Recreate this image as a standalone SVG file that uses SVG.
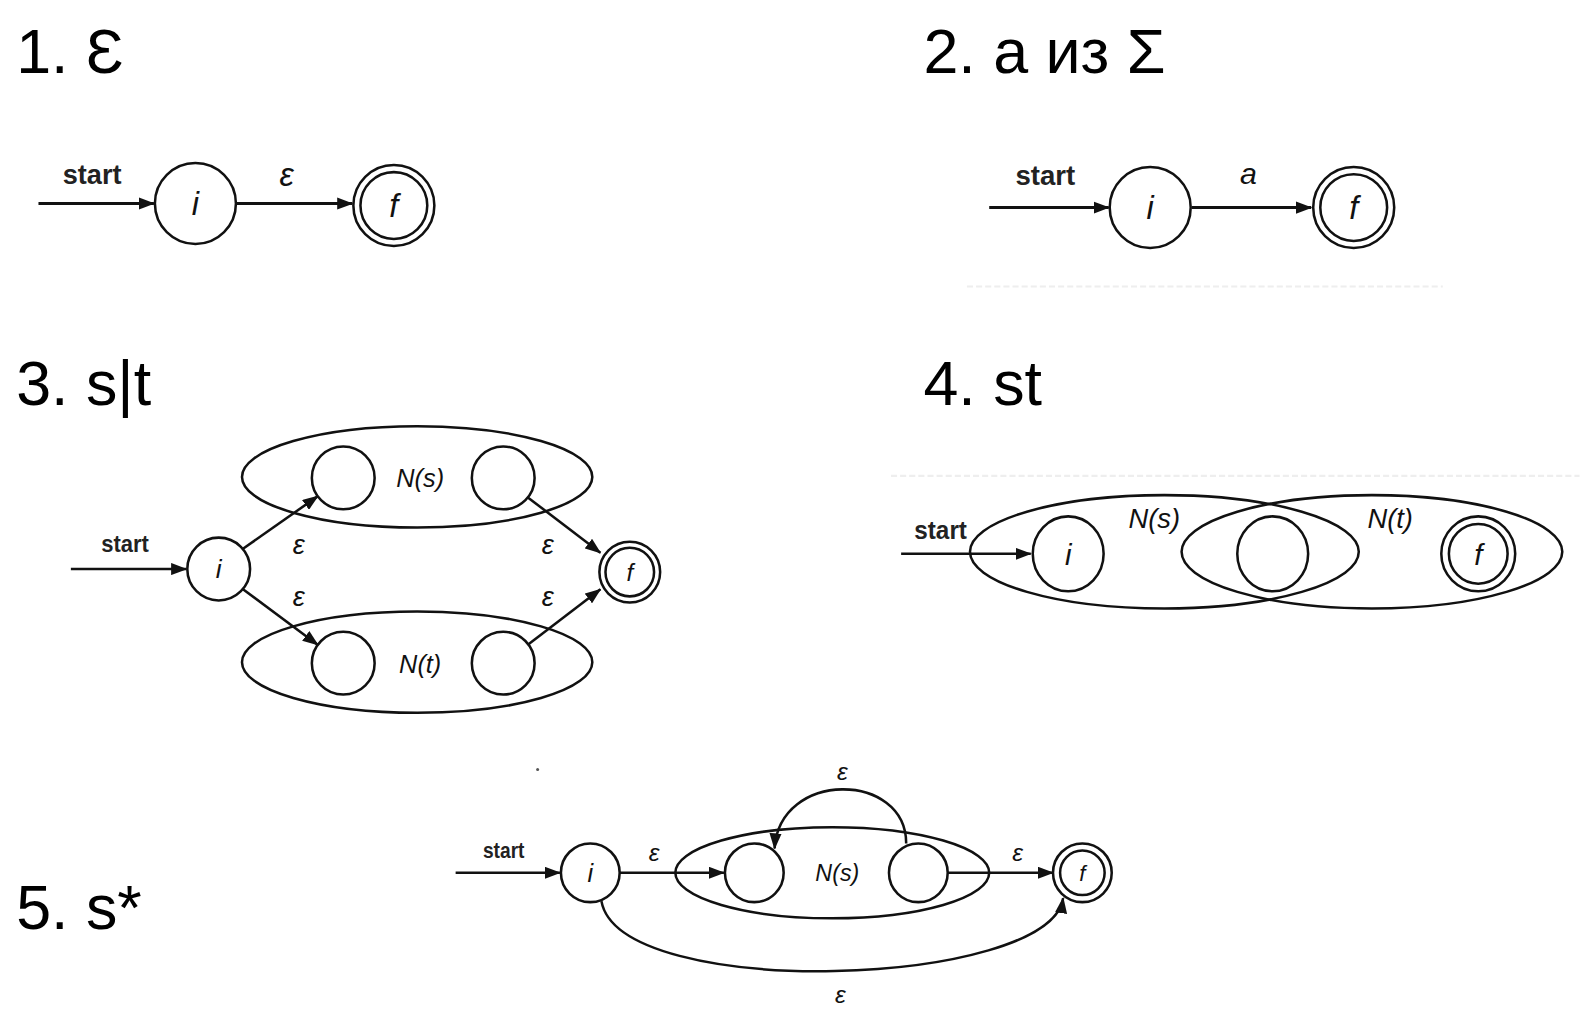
<svg xmlns="http://www.w3.org/2000/svg" width="1586" height="1021" viewBox="0 0 1586 1021">
<style>
.h{font-family:"Liberation Sans",Arial,sans-serif;font-size:62px;fill:#000}
.st{font-family:"Liberation Sans",Arial,sans-serif;font-weight:bold;fill:#222}
.it{font-family:"Liberation Sans",Arial,sans-serif;font-style:italic;fill:#111;text-anchor:middle}
.ln{fill:none;stroke:#111;stroke-width:2.5}
.ln3{fill:none;stroke:#111;stroke-width:3}
.nd{fill:#fff;stroke:#111;stroke-width:2.5}
.ell{fill:none;stroke:#111;stroke-width:2.5}
.art{stroke:#eee;stroke-width:2;stroke-dasharray:6 3}
</style>
<defs>
<marker id="ar" markerUnits="userSpaceOnUse" markerWidth="16" markerHeight="12" refX="15" refY="6" orient="auto">
<path d="M0,0 L16,6 L0,12 z" fill="#111"/>
</marker>
</defs>
<rect width="1586" height="1021" fill="#fff"/>
<g transform="scale(1.0125)">

<!-- headings -->
<text class="h" x="16" y="72">1. Ɛ</text>
<text class="h" x="912" y="72">2. a из Σ</text>
<text class="h" x="16" y="400">3. s|t</text>
<text class="h" x="912" y="400">4. st</text>
<text class="h" x="16" y="918">5. s*</text>

<!-- artifacts -->
<line class="art" x1="955" y1="283" x2="1425" y2="283"/>
<line class="art" x1="880" y1="470" x2="1560" y2="470"/>
<circle cx="531" cy="760" r="1.5" fill="#555"/>

<!-- connectors -->
<g id="connectors">
<line class="ln3" x1="38" y1="201" x2="152" y2="201" marker-end="url(#ar)"/>
<line class="ln3" x1="233" y1="201" x2="348" y2="201" marker-end="url(#ar)"/>
<line class="ln3" x1="977" y1="205" x2="1095" y2="205" marker-end="url(#ar)"/>
<line class="ln3" x1="1177" y1="205" x2="1295" y2="205" marker-end="url(#ar)"/>

<line class="ln" x1="70" y1="562" x2="184" y2="562" marker-end="url(#ar)"/>
<line class="ln" x1="240" y1="542" x2="314" y2="490" marker-end="url(#ar)"/>
<line class="ln" x1="240" y1="582" x2="314" y2="637" marker-end="url(#ar)"/>
<line class="ln" x1="521" y1="491" x2="593" y2="546" marker-end="url(#ar)"/>
<line class="ln" x1="521" y1="637" x2="593" y2="582" marker-end="url(#ar)"/>

<line class="ln" x1="890" y1="547" x2="1018" y2="547" marker-end="url(#ar)"/>

<line class="ln" x1="450" y1="862" x2="553" y2="862" marker-end="url(#ar)"/>
<line class="ln" x1="612" y1="862" x2="715" y2="862" marker-end="url(#ar)"/>
<line class="ln" x1="936" y1="862" x2="1040" y2="862" marker-end="url(#ar)"/>
<path class="ln" d="M895 833 C895 762,770 760,765 838" marker-end="url(#ar)"/>
<path class="ln" d="M594 890 C612 990,1038 975,1050 887" marker-end="url(#ar)"/>
</g>

<!-- panel 1 -->
<g id="p1-labels">
<text class="st" x="62" y="182" font-size="28" textLength="58" lengthAdjust="spacingAndGlyphs">start</text>
<text class="it" x="283" y="184" font-size="32">ε</text>
</g>
<g id="p1-i"><circle class="nd" cx="193" cy="201" r="40" stroke-width="3"/><text class="it" x="193" y="212" font-size="32">i</text></g>
<g id="p1-f"><circle class="nd" cx="389" cy="203" r="40" stroke-width="3"/><circle class="nd" cx="389" cy="203" r="33" stroke-width="2.5"/><text class="it" x="389" y="214" font-size="32">f</text></g>

<!-- panel 2 -->
<g id="p2-labels">
<text class="st" x="1003" y="183" font-size="28" textLength="59" lengthAdjust="spacingAndGlyphs">start</text>
<text class="it" x="1233" y="182" font-size="30">a</text>
</g>
<g id="p2-i"><circle class="nd" cx="1136" cy="205" r="40" stroke-width="3"/><text class="it" x="1136" y="216" font-size="32">i</text></g>
<g id="p2-f"><circle class="nd" cx="1337" cy="205" r="40" stroke-width="3"/><circle class="nd" cx="1337" cy="205" r="33"/><text class="it" x="1337" y="216" font-size="32">f</text></g>

<!-- panel 3 -->
<g id="p3-Ns">
<ellipse class="ell" cx="412" cy="471" rx="173" ry="50"/>
<circle class="nd" cx="339" cy="472" r="31"/>
<circle class="nd" cx="497" cy="472" r="31"/>
<text class="it" x="415" y="481" font-size="25">N(s)</text>
</g>
<g id="p3-Nt">
<ellipse class="ell" cx="412" cy="654" rx="173" ry="50"/>
<circle class="nd" cx="339" cy="655" r="31"/>
<circle class="nd" cx="497" cy="655" r="31"/>
<text class="it" x="415" y="665" font-size="25">N(t)</text>
</g>
<g id="p3-labels">
<text class="st" x="100" y="545" font-size="24" textLength="47" lengthAdjust="spacingAndGlyphs">start</text>
<text class="it" x="295" y="547" font-size="27">ε</text>
<text class="it" x="295" y="599" font-size="27">ε</text>
<text class="it" x="541" y="547" font-size="27">ε</text>
<text class="it" x="541" y="599" font-size="27">ε</text>
</g>
<g id="p3-i"><circle class="nd" cx="216" cy="562" r="31"/><text class="it" x="216" y="571" font-size="26">i</text></g>
<g id="p3-f"><circle class="nd" cx="622" cy="565" r="30"/><circle class="nd" cx="622" cy="565" r="24"/><text class="it" x="622" y="574" font-size="24">f</text></g>

<!-- panel 4 -->
<g id="p4-Ns"><ellipse class="ell" cx="1150" cy="545" rx="192" ry="56"/><text class="it" x="1140" y="521" font-size="27">N(s)</text></g>
<g id="p4-Nt"><ellipse class="ell" cx="1355" cy="545" rx="188" ry="56"/><text class="it" x="1373" y="521" font-size="27">N(t)</text></g>
<g id="p4-labels"><text class="st" x="903" y="532" font-size="26" textLength="52" lengthAdjust="spacingAndGlyphs">start</text></g>
<g id="p4-i"><ellipse class="nd" cx="1055" cy="547" rx="35" ry="37"/><text class="it" x="1055" y="558" font-size="29">i</text></g>
<g id="p4-m"><ellipse class="nd" cx="1257" cy="547" rx="35" ry="37"/></g>
<g id="p4-f"><ellipse class="nd" cx="1460" cy="547" rx="36.5" ry="37" stroke-width="3"/><ellipse class="nd" cx="1460" cy="547" rx="29" ry="29.5"/><text class="it" x="1460" y="558" font-size="29">f</text></g>

<!-- panel 5 -->
<g id="p5-Ns">
<ellipse class="ell" cx="822" cy="862" rx="155" ry="45"/>
<circle class="nd" cx="745" cy="862" r="29"/>
<circle class="nd" cx="907" cy="862" r="29"/>
<text class="it" x="827" y="870" font-size="23">N(s)</text>
</g>
<g id="p5-labels">
<text class="st" x="477" y="847" font-size="22" textLength="41" lengthAdjust="spacingAndGlyphs">start</text>
<text class="it" x="646" y="850" font-size="24">ε</text>
<text class="it" x="1005" y="850" font-size="24">ε</text>
<text class="it" x="832" y="770" font-size="24">ε</text>
<text class="it" x="830" y="991" font-size="24">ε</text>
</g>
<g id="p5-i"><circle class="nd" cx="583" cy="862" r="29"/><text class="it" x="583" y="871" font-size="25">i</text></g>
<g id="p5-f"><circle class="nd" cx="1069" cy="862" r="29"/><circle class="nd" cx="1069" cy="862" r="22"/><text class="it" x="1069" y="870" font-size="22">f</text></g>
</g>
</svg>
